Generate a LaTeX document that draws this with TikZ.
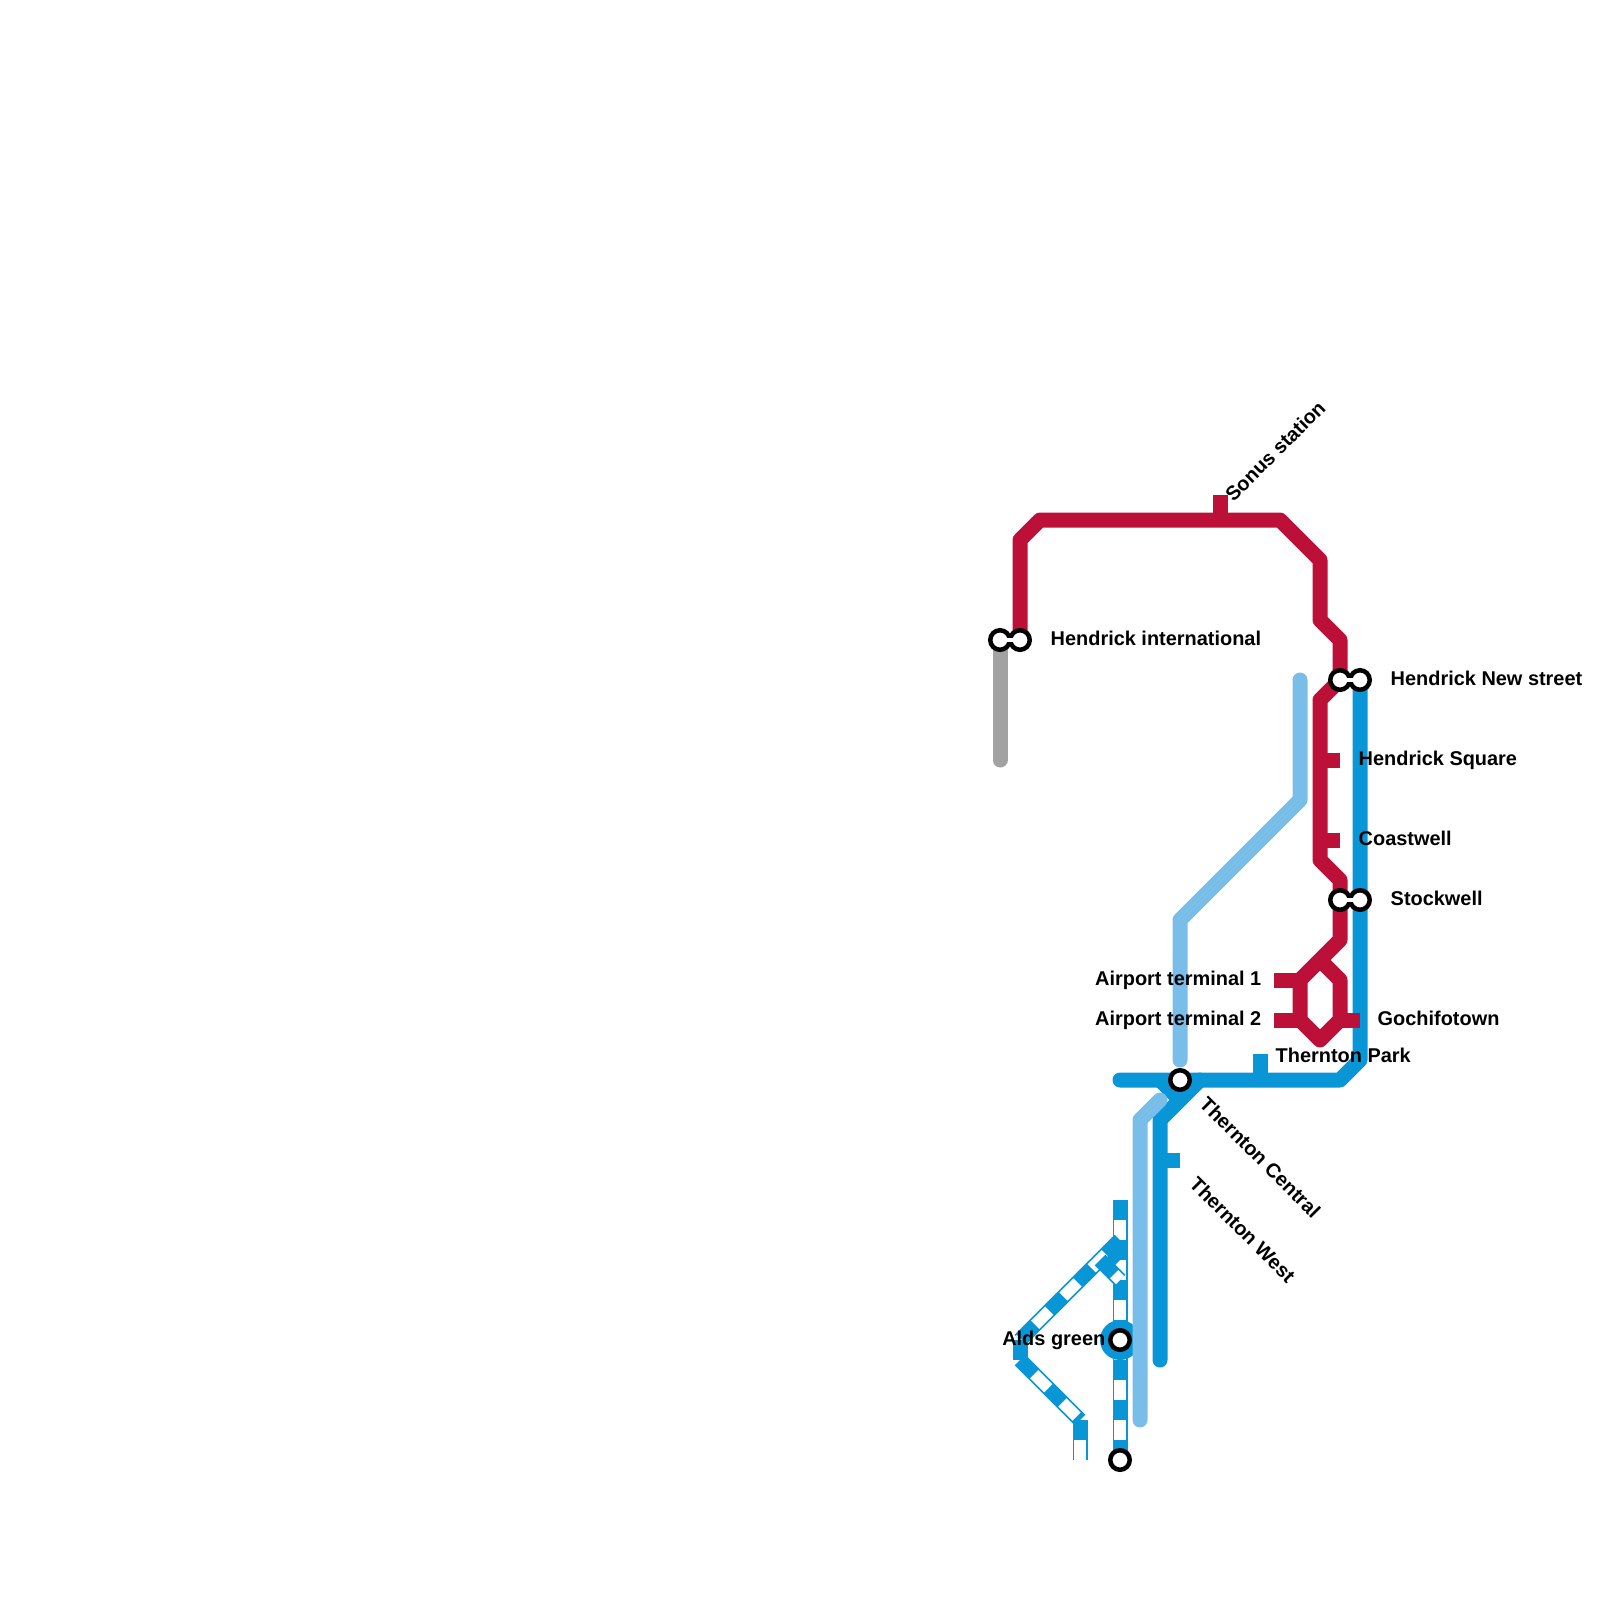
\documentclass[tikz,border=0pt]{standalone}
\usepackage{fontspec}
\setmainfont{Liberation Sans}
\usetikzlibrary{positioning,calc}

\definecolor{redline}{HTML}{BD1038}
\definecolor{blueline}{HTML}{0896D7}
\definecolor{lightline}{HTML}{79BDE9}
\definecolor{greyline}{HTML}{A2A2A2}

\tikzset{
    route/.style={line width=0.15cm, line join=round},
    capped/.style={route, line cap=round},
    stripe/.style={blueline, line width=0.15cm, postaction={draw=white, line width=0.115cm, dash pattern=on 0.2cm off 0.2cm, dash phase=0.2cm}},
    station/.style={circle, draw=black, fill=white, line width=0.045cm, minimum size=0.195cm, inner sep=0pt},
    bridge/.style={black, line width=0.12cm},
    gap/.style={white, line width=0.04cm},
    stationlabel/.style={font=\fontsize{5.67pt}{6.5pt}\selectfont\bfseries, text=black, inner sep=0pt}
}

\begin{document}
\begin{tikzpicture}[x=0.2cm, y=-0.2cm]
    \useasboundingbox (0,0) rectangle (80,80);

    % Station positions
    \coordinate (intlA) at (50,32);
    \coordinate (intlB) at (51,32);
    \coordinate (newA) at (67,34);
    \coordinate (newB) at (68,34);
    \coordinate (stockA) at (67,45);
    \coordinate (stockB) at (68,45);
    \coordinate (central) at (59,54);
    \coordinate (alds) at (56,67);
    \coordinate (terminus) at (56,73);

    % Striped branch
    \draw[stripe] (56,60) -- (terminus);
    \draw[stripe] (56,62) -- (51,67);
    \draw[stripe] (51,67) -- (51,68);
    \draw[stripe] (51,68) -- (54,71);
    \draw[stripe] (54,71) -- (54,73);
    \draw[stripe] (55,63) -- (56,64);
    \draw[route, blueline] (55.6,62.6) -- (56,63);
    \node[circle, fill=blueline, minimum size=0.4cm, inner sep=0pt] (aldsring) at (alds) {};

    % Blue line
    \draw[route, blueline, line cap=round] (56,54) -- (67,54) -- (68,53) -- (newB);
    \draw[route, blueline, line cap=round] (60,54) -- (58,56) -- (58,68);
    \draw[route, blueline] (58,54) -- (59,55);
    \draw[route, blueline] (63,54) -- (63,52.7);
    \draw[route, blueline] (58,58) -- (59,58);

    % Light blue and grey lines
    \draw[capped, lightline] (65,34) -- (65,40) -- (59,46) -- (59,53);
    \draw[capped, lightline] (58,55) -- (57,56) -- (57,71);
    \draw[capped, greyline] (intlA) -- (50,38);

    % Red line
    \draw[route, redline] (intlB) -- (51,27) -- (52,26) -- (64,26) -- (66,28) -- (66,31) -- (67,32) -- (newA);
    \draw[route, redline] (newA) -- (66,35) -- (66,43) -- (67,44) -- (67,47) -- (65,49);
    \draw[route, redline] (66,48) -- (67,49) -- (67,51) -- (66,52) -- (65,51) -- (65,49);
    \draw[route, redline] (63.7,49) -- (65,49);
    \draw[route, redline] (63.7,51) -- (65,51);
    \draw[route, redline] (67,51) -- (68,51);
    \draw[route, redline] (66,38) -- (67,38);
    \draw[route, redline] (66,42) -- (67,42);
    \draw[route, redline] (61,26) -- (61,24.75);

    % Stations
    \draw[bridge] (intlA) -- (intlB);
    \draw[bridge] (newA) -- (newB);
    \draw[bridge] (stockA) -- (stockB);
    \node[station] (intlAst) at (intlA) {};
    \node[station] (intlBst) at (intlB) {};
    \node[station] (newAst) at (newA) {};
    \node[station] (newBst) at (newB) {};
    \node[station] (stockAst) at (stockA) {};
    \node[station] (stockBst) at (stockB) {};
    \node[station] (centralst) at (central) {};
    \node[station] (aldsst) at (alds) {};
    \node[station] (terminusst) at (terminus) {};
    \draw[gap] (intlA) -- (intlB);
    \draw[gap] (newA) -- (newB);
    \draw[gap] (stockA) -- (stockB);

    % Labels
    \node[stationlabel, anchor=west] (intllabel) at (52.5,31.9) {Hendrick international};
    \node[stationlabel, anchor=west] (newlabel) at (69.5,33.9) {Hendrick New street};
    \node[stationlabel, anchor=west] (squarelabel) at (67.9,38) {Hendrick Square};
    \node[stationlabel, anchor=west] (coastlabel) at (67.9,41.9) {Coastwell};
    \node[stationlabel, anchor=west] (stocklabel) at (69.5,44.9) {Stockwell};
    \node[stationlabel, anchor=west] (gochilabel) at (68.85,50.9) {Gochifotown};
    \node[stationlabel, anchor=west] (parklabel) at (63.75,52.75) {Thernton Park};
    \node[stationlabel, anchor=east] (air1label) at (63.1,49) {Airport terminal 1};
    \node[stationlabel, anchor=east] (air2label) at (63.1,51) {Airport terminal 2};
    \node[stationlabel, anchor=east] (aldslabel) at (55.3,67) {Alds green};
    \node[stationlabel, anchor=west, rotate=45] (sonuslabel) at (61.4,24.9) {Sonus station};
    \node[stationlabel, anchor=west, rotate=-45] (centrallabel) at (60.15,55) {Thernton Central};
    \node[stationlabel, anchor=west, rotate=-45] (westlabel) at (59.65,59) {Thernton West};
\end{tikzpicture}
\end{document}
